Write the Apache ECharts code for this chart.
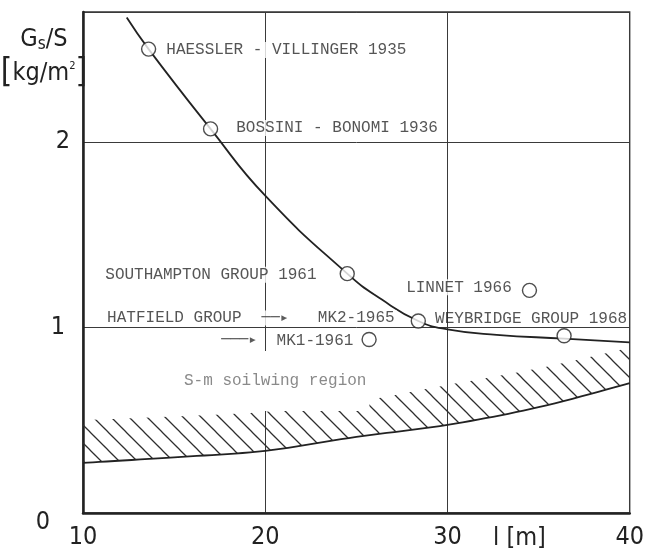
<!DOCTYPE html>
<html>
<head>
<meta charset="utf-8">
<script src="https://cdn.jsdelivr.net/npm/echarts@6/dist/echarts.min.js"></script>
<style>
  html, body { margin: 0; padding: 0; background: #fff; }
  #chart { width: 647px; height: 555px; }
</style>
</head>
<body>
<div id="chart"></div>
<script>
// Sailplane designs: span l [m] against wing loading Gs/S [kg/m²]
const gliderNames = [
  'HAESSLER - VILLINGER 1935',
  'BOSSINI - BONOMI 1936',
  'SOUTHAMPTON GROUP 1961',
  'MK2-1965',
  'LINNET 1966',
  'MK1-1961',
  'WEYBRIDGE GROUP 1968'
];
const gliderSpan    = [13.6, 17.0, 24.5, 28.4, 34.5, 25.7, 36.4];
const gliderLoading = [2.50, 2.07, 1.29, 1.035, 1.20, 0.935, 0.955];
const hatfieldNote  = 'HATFIELD GROUP';

// Trend curve drawn through the designs
const trendSpan    = [12.4, 13.6, 17.0, 20, 24.5, 26.4, 28.4, 30, 32.7, 36.4, 40];
const trendLoading = [2.67, 2.50, 2.07, 1.71, 1.29, 1.15, 1.035, 0.99, 0.96, 0.94, 0.92];

// Lower bound of the soaring region and the top of its hatched edge
const boundSpan    = [10, 15, 20, 25, 30, 35, 40];
const boundLoading = [0.27, 0.30, 0.335, 0.41, 0.475, 0.57, 0.70];
const hatchTop     = [0.50, 0.52, 0.545, 0.60, 0.69, 0.78, 0.89];
const regionLabel  = 'S-m soilwing region';

const xTicks = [10, 20, 30, 40];
const yTicks = [0, 1, 2];

const zip = (a, b) => a.map((v, i) => [v, b[i]]);

// Diagonal "\" hatch tile for the region edge
function hatchTile() {
  const s = 18;
  const c = document.createElement('canvas');
  c.width = s; c.height = s;
  const g = c.getContext('2d');
  g.strokeStyle = '#2e2e2e';
  g.lineWidth = 1.25;
  for (const k of [-1, 0, 1]) {
    g.beginPath();
    g.moveTo(-s, k * s - s);
    g.lineTo(2 * s, k * s + 2 * s);
    g.stroke();
  }
  return c;
}
const hatchPattern = { image: hatchTile(), repeat: 'repeat' };

// Catmull-Rom smoothing of pixel points for drawing curved edges
function smoothPath(pts, steps) {
  const out = [];
  for (let i = 0; i < pts.length - 1; i++) {
    const p0 = pts[Math.max(i - 1, 0)], p1 = pts[i], p2 = pts[i + 1], p3 = pts[Math.min(i + 2, pts.length - 1)];
    for (let s = 0; s < steps; s++) {
      const t = s / steps, t2 = t * t, t3 = t2 * t;
      out.push([0, 1].map(d => 0.5 * ((2 * p1[d]) + (-p0[d] + p2[d]) * t +
        (2 * p0[d] - 5 * p1[d] + 4 * p2[d] - p3[d]) * t2 +
        (-p0[d] + 3 * p1[d] - 3 * p2[d] + p3[d]) * t3)));
    }
  }
  out.push(pts[pts.length - 1]);
  return out;
}

function renderRegion(params, api) {
  if (params.dataIndex !== 0) return null;
  const low = smoothPath(boundSpan.map((x, i) => api.coord([x, boundLoading[i]])), 12);
  const high = smoothPath(boundSpan.map((x, i) => api.coord([x, hatchTop[i]])), 12);
  return {
    type: 'group',
    children: [
      {
        type: 'polygon',
        shape: { points: high.concat(low.slice().reverse()) },
        style: { fill: hatchPattern, stroke: null }
      },
      {
        type: 'polyline',
        shape: { points: low },
        style: { stroke: '#222', lineWidth: 1.8, fill: null }
      }
    ]
  };
}

const typeFont = '"Liberation Mono", "DejaVu Sans Mono", monospace';
const handFont = '"DejaVu Sans Condensed", "DejaVu Sans", sans-serif';
const ink = '#2b2b2b';

const richText = {
  t: { backgroundColor: '#fff', padding: [0, 2] },
  a: { fontFamily: '"DejaVu Sans Mono", monospace', fontSize: 15, color: '#333', backgroundColor: '#fff' },
  b: { fontFamily: '"DejaVu Sans Mono", monospace', fontSize: 15, color: '#333' },
  u: {}
};

// Where each design's caption sits around its circle
const labelPlacement = [
  { position: 'right', distance: 8, offset: [0, 1], fmt: n => `{t|${n}}` },
  { position: 'right', distance: 16, offset: [0, -1], fmt: n => `{t|${n}}` },
  { position: 'left', distance: 21, offset: [0, 1], fmt: n => `{t|${n}}` },
  { position: 'left', distance: 14, offset: [0, -3], fmt: n => `{t|${hatfieldNote}}{a|  ──▸   }{t|${n}}` },
  { position: 'left', distance: 8, offset: [0, -3], fmt: n => `{t|${n}}` },
  { position: 'left', distance: 8, offset: [0, 1], fmt: n => `{b|───▸}{u|  ${n}}` },
  { position: 'top', distance: 1, offset: [-33, 0], fmt: n => `{u|${n}}` }
];

const gliderData = gliderNames.map((n, i) => {
  const p = labelPlacement[i];
  return {
    name: n,
    value: [gliderSpan[i], gliderLoading[i]],
    label: { show: true, position: p.position, distance: p.distance, offset: p.offset, formatter: p.fmt(n) }
  };
});

const chart = echarts.init(document.getElementById('chart'), null, { renderer: 'canvas' });

chart.setOption({
  animation: false,
  backgroundColor: '#fff',
  grid: { left: 83, right: 12, top: 12, bottom: 42, show: true, borderColor: '#333', borderWidth: 1.4 },
  xAxis: {
    type: 'value', min: 10, max: 40, interval: 10,
    axisLine: { lineStyle: { color: '#222', width: 2.5 } },
    axisTick: { show: false },
    splitLine: { lineStyle: { color: '#3a3a3a', width: 1 } },
    axisLabel: {
      margin: 12, fontSize: 25, fontFamily: handFont, color: '#222',
      formatter: v => (xTicks.includes(v) ? String(v) : '')
    }
  },
  yAxis: {
    type: 'value', min: 0, max: 2.7, interval: 1,
    axisLine: { show: true, lineStyle: { color: '#222', width: 2.5 } },
    axisTick: { show: false },
    splitLine: { lineStyle: { color: '#3a3a3a', width: 1 } },
    axisLabel: {
      margin: 13, fontSize: 25, fontFamily: handFont, color: '#222',
      formatter: v => (yTicks.includes(v) ? `{d${v}|${v}}` : ''),
      rich: {
        d0: { fontSize: 25, padding: [18, 20, 0, 0] },
        d1: { fontSize: 25, padding: [0, 5, 0, 0] },
        d2: { fontSize: 25, padding: [0, 0, 0, 0] }
      }
    }
  },
  graphic: [
    {
      type: 'text', x: 44, y: 22, z: 50,
      style: {
        text: '{g|G}{s|s}{g|/S}\n{k|[}{g|kg/m}{p|2}{k|]}',
        align: 'center',
        fill: '#222',
        rich: {
          g: { fontFamily: handFont, fontSize: 25, lineHeight: 34 },
          s: { fontFamily: handFont, fontSize: 17, padding: [12, 0, 0, 0], lineHeight: 34 },
          p: { fontFamily: handFont, fontSize: 11, padding: [0, 0, 14, 0], lineHeight: 34 },
          k: { fontFamily: handFont, fontSize: 33, lineHeight: 34 }
        }
      }
    },
    {
      type: 'text', x: 493, y: 526, z: 50,
      style: { text: 'l [m]', fill: '#222', font: `25px ${handFont}` }
    },
    {
      type: 'text', x: 181, y: 381, z: 50,
      style: {
        text: regionLabel, fill: '#8a8a8a', font: `16px ${typeFont}`,
        verticalAlign: 'middle', backgroundColor: '#fff', padding: [22, 3, 22, 3]
      }
    }
  ],
  series: [
    {
      name: 'region', type: 'custom', z: 2,
      renderItem: renderRegion,
      encode: { x: 0, y: [1, 2] },
      data: boundSpan.map((x, i) => [x, boundLoading[i], hatchTop[i]])
    },
    {
      name: 'trend', type: 'line', smooth: true, showSymbol: false, symbol: 'none',
      data: zip(trendSpan, trendLoading),
      lineStyle: { color: '#222', width: 1.8 }, z: 4
    },
    {
      name: 'designs', type: 'scatter', symbol: 'circle', symbolSize: 14, z: 5,
      itemStyle: { color: '#fff', borderColor: '#222', borderWidth: 1.4 },
      label: { fontFamily: typeFont, fontSize: 16, color: ink, rich: richText },
      data: gliderData
    }
  ]
});
</script>
</body>
</html>
